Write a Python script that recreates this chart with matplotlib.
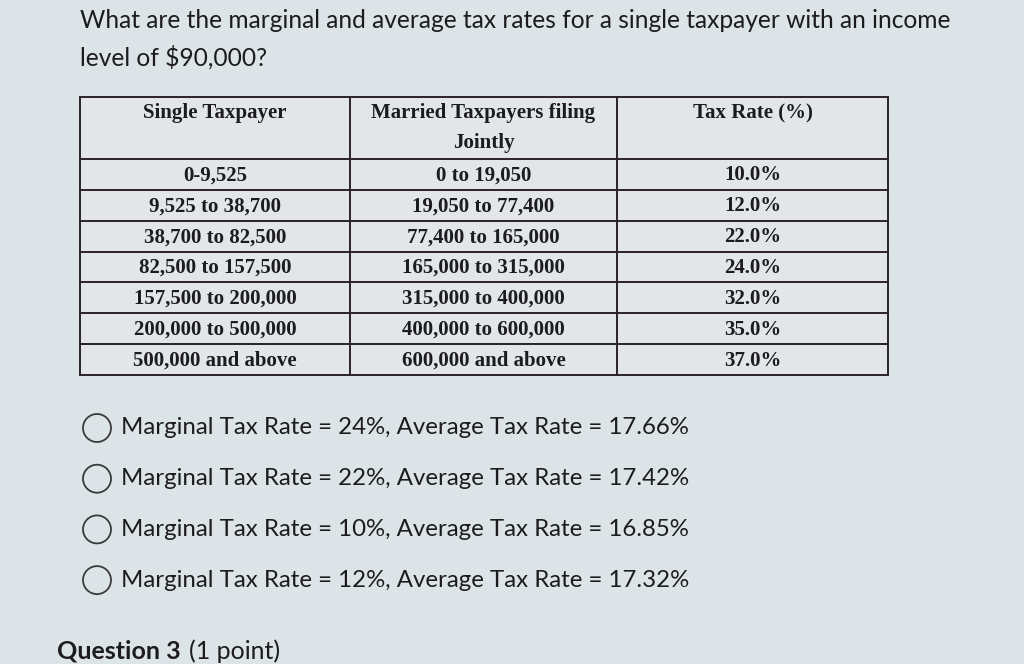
import matplotlib
matplotlib.use("Agg")
import matplotlib.pyplot as plt
from matplotlib.patches import Circle, Rectangle

# Table content
headers = [["Single Taxpayer"], ["Married Taxpayers filing", "Jointly"], ["Tax Rate (%)"]]
single_brackets = ["0-9,525", "9,525 to 38,700", "38,700 to 82,500",
                   "82,500 to 157,500", "157,500 to 200,000",
                   "200,000 to 500,000", "500,000 and above"]
married_brackets = ["0 to 19,050", "19,050 to 77,400", "77,400 to 165,000",
                    "165,000 to 315,000", "315,000 to 400,000",
                    "400,000 to 600,000", "600,000 and above"]
tax_rates = [10.0, 12.0, 22.0, 24.0, 32.0, 35.0, 37.0]

# Answer choices
marginal_rates = [24, 22, 10, 12]
average_rates = [17.66, 17.42, 16.85, 17.32]

question_lines = ["What are the marginal and average tax rates for a single taxpayer with an income",
                  "level of $90,000?"]

BG = "#dde4e7"
INK = "#1c1c20"
LINE = "#2b2228"

fig = plt.figure(figsize=(10.24, 6.64), dpi=100, facecolor=BG)
ax = fig.add_axes([0, 0, 1, 1])
ax.set_xlim(0, 1024)
ax.set_ylim(664, 0)
ax.axis("off")
ax.set_facecolor(BG)

sans = ["Lato", "DejaVu Sans"]
serif = ["Liberation Serif", "DejaVu Serif"]

# question text
for i, line in enumerate(question_lines):
    ax.text(80, 20 + i * 37, line, family=sans, fontsize=17.65, color=INK,
            va="center", ha="left")

# table layout
col_x = [80, 350, 617, 888]
header_top, header_bot = 97, 159
row_h = (375 - header_bot) / len(tax_rates)
table_bot = header_bot + row_h * len(tax_rates)

ax.add_patch(Rectangle((col_x[0], header_top), col_x[-1] - col_x[0],
                       table_bot - header_top, facecolor="#e2e6e8",
                       edgecolor="none", zorder=1))
for x in col_x:
    ax.plot([x, x], [header_top, table_bot], color=LINE, lw=1.4, zorder=2)
for y in [header_top, header_bot] + [header_bot + row_h * (i + 1) for i in range(len(tax_rates))]:
    ax.plot([col_x[0], col_x[-1]], [y, y], color=LINE, lw=1.4, zorder=2)

centers = [(col_x[i] + col_x[i + 1]) / 2 for i in range(3)]
for cx, lines in zip(centers, headers):
    for j, h in enumerate(lines):
        ax.text(cx, 113 + j * 30, h, family=serif, weight="bold", fontsize=15,
                color=INK, ha="center", va="center", zorder=3)

for i, (s, m, r) in enumerate(zip(single_brackets, married_brackets, tax_rates)):
    cy = header_bot + row_h * (i + 0.5)
    for cx, t in zip(centers, [s, m, f"{r:.1f}%"]):
        ax.text(cx, cy + 1, t, family=serif, weight="bold", fontsize=15,
                color=INK, ha="center", va="center", zorder=3)

# answer options
for i, (mr, ar) in enumerate(zip(marginal_rates, average_rates)):
    cy = 428 + i * 50.7
    ax.add_patch(Circle((97, cy), 14, facecolor="none", edgecolor="#3a3a3e",
                        lw=1.3, zorder=3))
    ax.text(121, cy, f"Marginal Tax Rate = {mr}%, Average Tax Rate = {ar:.2f}%",
            family=sans, fontsize=17.3, color=INK, ha="left", va="center")

q3 = ax.text(57, 663, "Question 3", family=sans, weight="bold", fontsize=18,
             color=INK, ha="left", va="bottom")
ax.annotate("(1 point)", xy=(1, 0), xycoords=q3, xytext=(6, 0),
            textcoords="offset points", family=sans, fontsize=18,
            color=INK, ha="left", va="bottom")

fig.savefig("out.png", dpi=100, facecolor=BG)
